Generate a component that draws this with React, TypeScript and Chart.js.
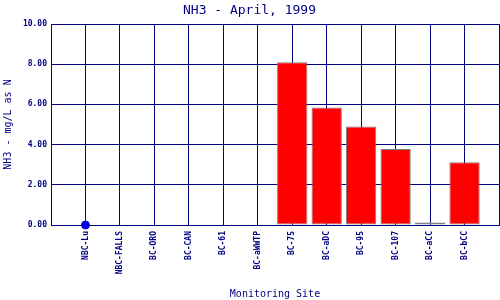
import React, { useEffect, useRef } from "react";
import { Chart, registerables } from "chart.js";

Chart.register(...registerables);

const sites = ["", "NBC-Lu", "NBC-FALLS", "BC-ORO", "BC-CAN", "BC-61", "BC-aWWTP", "BC-75", "BC-aDC", "BC-95", "BC-107", "BC-aCC", "BC-bCC", ""];
const nh3Values = [null, null, 0, 0, 0, 0, 0, 8.1, 5.85, 4.9, 3.78, 0.13, 3.12, null];
const markerValues = [null, 0, null, null, null, null, null, null, null, null, null, null, null, null];
const yTicks = [0, 2, 4, 6, 8, 10];

const NAVY = "#000080";
const MONO = "'DejaVu Sans Mono', monospace";

export default function App() {
  const ref = useRef<HTMLCanvasElement | null>(null);
  useEffect(() => {
    document.body.style.margin = "0";
    const chart = new Chart(ref.current as HTMLCanvasElement, {
      type: "bar",
      data: {
        labels: sites,
        datasets: [
          {
            type: "bar",
            label: "NH3",
            data: nh3Values as any,
            backgroundColor: "#ff0000",
            borderColor: "#808080",
            borderWidth: 1,
            borderSkipped: false,
            barPercentage: 0.88,
            categoryPercentage: 1,
          } as any,
          {
            type: "line",
            label: "marker",
            data: markerValues as any,
            showLine: false,
            pointRadius: 4,
            pointBackgroundColor: "#0000e0",
            pointBorderColor: "#0000e0",
            clip: false,
          } as any,
        ],
      },
      options: {
        animation: false,
        responsive: false,
        layout: { autoPadding: false, padding: { left: 0, right: 1, top: 0, bottom: 0 } },
        plugins: {
          legend: { display: false },
          tooltip: { enabled: false },
          title: {
            display: true,
            text: "NH3 - April, 1999",
            color: NAVY,
            font: { family: MONO, size: 13, weight: "normal" },
            padding: { top: 3, bottom: 5.4 },
          },
        },
        scales: {
          x: {
            offset: false,
            grid: { color: NAVY, lineWidth: 1, drawTicks: false, offset: false },
            border: { color: NAVY, width: 1 },
            ticks: {
              color: NAVY,
              font: { family: MONO, size: 8, weight: "bold" },
              maxRotation: 90,
              minRotation: 90,
              autoSkip: false,
              padding: 6,
            },
            title: {
              display: true,
              text: "Monitoring Site",
              color: NAVY,
              font: { family: MONO, size: 10, weight: "normal" },
              padding: { top: 0, bottom: 0 },
            },
            afterFit: (s: any) => {
              s.height = 75;
              s.paddingLeft = 0;
              s.paddingRight = 0;
            },
          },
          y: {
            min: 0,
            max: 10,
            afterBuildTicks: (s: any) => {
              s.ticks = yTicks.map((v) => ({ value: v }));
            },
            grid: { color: NAVY, lineWidth: 1, drawTicks: false },
            border: { color: NAVY, width: 1 },
            ticks: {
              color: NAVY,
              font: { family: MONO, size: 8, weight: "bold" },
              padding: 4,
              callback: (v: any) => Number(v).toFixed(2),
            },
            title: {
              display: true,
              text: "NH3 - mg/L as N",
              color: NAVY,
              font: { family: MONO, size: 10, weight: "normal" },
              padding: { top: 2, bottom: 0 },
            },
            afterFit: (s: any) => {
              s.width = 51;
              s.paddingTop = 0;
              s.paddingBottom = 0;
            },
          },
        },
      } as any,
    });
    return () => chart.destroy();
  }, []);
  return (
    <div style={{ width: 500, height: 300 }}>
      <canvas ref={ref} width={500} height={300} style={{ display: "block" }} />
    </div>
  );
}
